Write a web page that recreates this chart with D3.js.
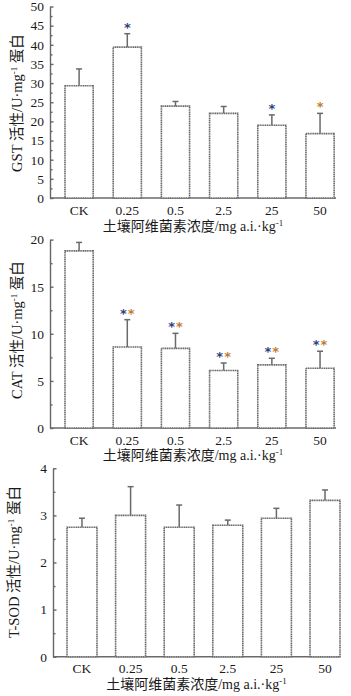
<!DOCTYPE html>
<html>
<head>
<meta charset="utf-8">
<script src="https://cdn.jsdelivr.net/npm/d3@7"></script>
<style>
  body { margin: 0; background: #fff; }
  svg { display: block; }
  .tick text { font-family: "Liberation Serif", "Noto Sans CJK SC", serif; font-size: 13.5px; fill: #1a1a1a; }
  .axis path, .axis line { stroke: #666; stroke-width: 1.4; }
  .title { font-family: "Liberation Serif", "Noto Sans CJK SC", serif; fill: #1a1a1a; }
</style>
</head>
<body>
<svg id="draw" width="351" height="696"></svg>
<script>
// categories (soil abamectin concentration)
var categories = ["CK", "0.25", "0.5", "2.5", "25", "50"];

// GST activity
var gstMean = [29.3, 39.4, 24.0, 22.1, 19.0, 16.8];
var gstErr  = [33.7, 42.9, 25.2, 23.9, 21.7, 22.1];
var gstMark = ["", "*", "", "", "*", "*"];
var gstTicks = [0, 5, 10, 15, 20, 25, 30, 35, 40, 45, 50];

// CAT activity
var catMean = [18.8, 8.6, 8.45, 6.1, 6.7, 6.35];
var catErr  = [19.7, 11.5, 10.05, 6.9, 7.4, 8.15];
var catMark = ["", "**", "**", "**", "**", "**"];
var catTicks = [0, 5, 10, 15, 20];

// T-SOD activity
var sodMean = [2.75, 3.0, 2.75, 2.79, 2.94, 3.32];
var sodErr  = [2.94, 3.61, 3.22, 2.90, 3.15, 3.54];
var sodTicks = [0, 1, 2, 3, 4];

var xTitle = "土壤阿维菌素浓度/mg a.i.·kg";

var svg = d3.select("#draw");
var lineCol = "#6a6a6a";
var blue = "#2c3f86", orange = "#c27a2c";

function panel(opt) {
  var g = svg.append("g");

  var x = d3.scaleBand()
    .domain(categories)
    .range([opt.left, opt.right])
    .paddingInner(opt.pi)
    .paddingOuter(opt.po)
    .align(opt.align);

  var y = d3.scaleLinear()
    .domain([0, opt.max])
    .range([opt.bottom, opt.top]);

  // minor ticks
  g.append("g")
    .attr("class", "axis")
    .attr("transform", "translate(" + opt.left + ",0)")
    .call(d3.axisLeft(y).tickValues(opt.minor).tickFormat("").tickSize(-2.5).tickSizeOuter(0))
    .select(".domain").remove();

  // major ticks + labels
  g.append("g")
    .attr("class", "axis")
    .attr("transform", "translate(" + opt.left + ",0)")
    .call(d3.axisLeft(y).tickValues(opt.ticks).tickFormat(d3.format("d"))
      .tickSize(-3.5).tickSizeOuter(0).tickPadding(6));

  // x axis line
  g.append("line")
    .attr("x1", opt.left).attr("x2", opt.axisEnd)
    .attr("y1", y(0)).attr("y2", y(0))
    .attr("stroke", lineCol).attr("stroke-width", 1.6);

  // x labels
  g.append("g")
    .attr("class", "axis")
    .attr("transform", "translate(0," + y(0) + ")")
    .call(d3.axisBottom(x).tickSize(0).tickPadding(opt.labPad))
    .select(".domain").remove();

  // error bars
  var eb = g.selectAll(".err")
    .data(opt.mean)
    .enter().append("g");
  eb.append("line")
    .attr("x1", function(d, i) { return x(categories[i]) + x.bandwidth() / 2; })
    .attr("x2", function(d, i) { return x(categories[i]) + x.bandwidth() / 2; })
    .attr("y1", function(d) { return y(d); })
    .attr("y2", function(d, i) { return y(opt.err[i]); })
    .attr("stroke", lineCol).attr("stroke-width", 1.5);
  eb.append("line")
    .attr("x1", function(d, i) { return x(categories[i]) + x.bandwidth() / 2 - 3; })
    .attr("x2", function(d, i) { return x(categories[i]) + x.bandwidth() / 2 + 3; })
    .attr("y1", function(d, i) { return y(opt.err[i]); })
    .attr("y2", function(d, i) { return y(opt.err[i]); })
    .attr("stroke", lineCol).attr("stroke-width", 1.5);

  // bars
  g.selectAll(".bar")
    .data(opt.mean)
    .enter().append("rect")
    .attr("x", function(d, i) { return x(categories[i]); })
    .attr("y", function(d) { return y(d); })
    .attr("width", x.bandwidth())
    .attr("height", function(d) { return y(0) - y(d); })
    .attr("fill", "#fff")
    .attr("stroke", lineCol)
    .attr("stroke-width", 1.6)
    .attr("stroke-dasharray", "1.3,0.5");

  // significance marks
  if (opt.marks) {
    var mk = g.selectAll(".mark")
      .data(opt.marks)
      .enter().append("text")
      .attr("x", function(d, i) { return x(categories[i]) + x.bandwidth() / 2; })
      .attr("y", function(d, i) { return y(opt.err[i]) - 2; })
      .attr("text-anchor", "middle")
      .attr("font-family", "DejaVu Sans, sans-serif")
      .attr("font-weight", "bold")
      .attr("font-size", 13);
    mk.each(function(d, i) {
      var t = d3.select(this);
      if (d === "*") {
        t.append("tspan").attr("fill", opt.singleCol[i]).text("*");
      } else if (d === "**") {
        t.append("tspan").attr("fill", blue).text("*");
        t.append("tspan").attr("fill", orange).attr("dx", 1).text("*");
      }
    });
  }

  // x title
  var xt = g.append("text")
    .attr("class", "title")
    .attr("x", (opt.left + opt.axisEnd) / 2)
    .attr("y", opt.xTitleY)
    .attr("text-anchor", "middle")
    .attr("font-size", 14);
  xt.append("tspan").text(xTitle);
  xt.append("tspan").attr("font-size", 9).attr("dy", -5).text("-1");

  // y title
  var yt = g.append("text")
    .attr("class", "title")
    .attr("transform", "translate(" + opt.yTitleX + "," + opt.yTitleY + ") rotate(-90)")
    .attr("text-anchor", "middle")
    .attr("font-size", 14.5);
  yt.append("tspan").text(opt.yName + " 活性/U·mg");
  yt.append("tspan").attr("font-size", 9).attr("dy", -5).text("-1");
  yt.append("tspan").attr("dy", 5).text(" 蛋白");
}

panel({
  mean: gstMean, err: gstErr, marks: gstMark,
  singleCol: ["", blue, "", "", blue, orange],
  max: 50, ticks: gstTicks, minor: d3.range(2.5, 50, 5),
  left: 50, right: 336, axisEnd: 336, pi: 0.415, po: 0.175, align: 0.89,
  top: 6.5, bottom: 198, labPad: 7, xTitleY: 231,
  yName: "GST", yTitleX: 22, yTitleY: 103
});

panel({
  mean: catMean, err: catErr, marks: catMark,
  max: 20, ticks: catTicks, minor: d3.range(2.5, 20, 5),
  left: 50, right: 336, axisEnd: 336, pi: 0.415, po: 0.175, align: 0.89,
  top: 239.6, bottom: 428, labPad: 7, xTitleY: 460,
  yName: "CAT", yTitleX: 22, yTitleY: 330
});

panel({
  mean: sodMean, err: sodErr, marks: null,
  max: 4, ticks: sodTicks, minor: d3.range(0.5, 4, 1),
  left: 53, right: 340, axisEnd: 340, pi: 0.383, po: 0.144, align: 1,
  top: 468.3, bottom: 656.7, labPad: 7, xTitleY: 689,
  yName: "T-SOD", yTitleX: 19, yTitleY: 562
});
</script>
</body>
</html>
